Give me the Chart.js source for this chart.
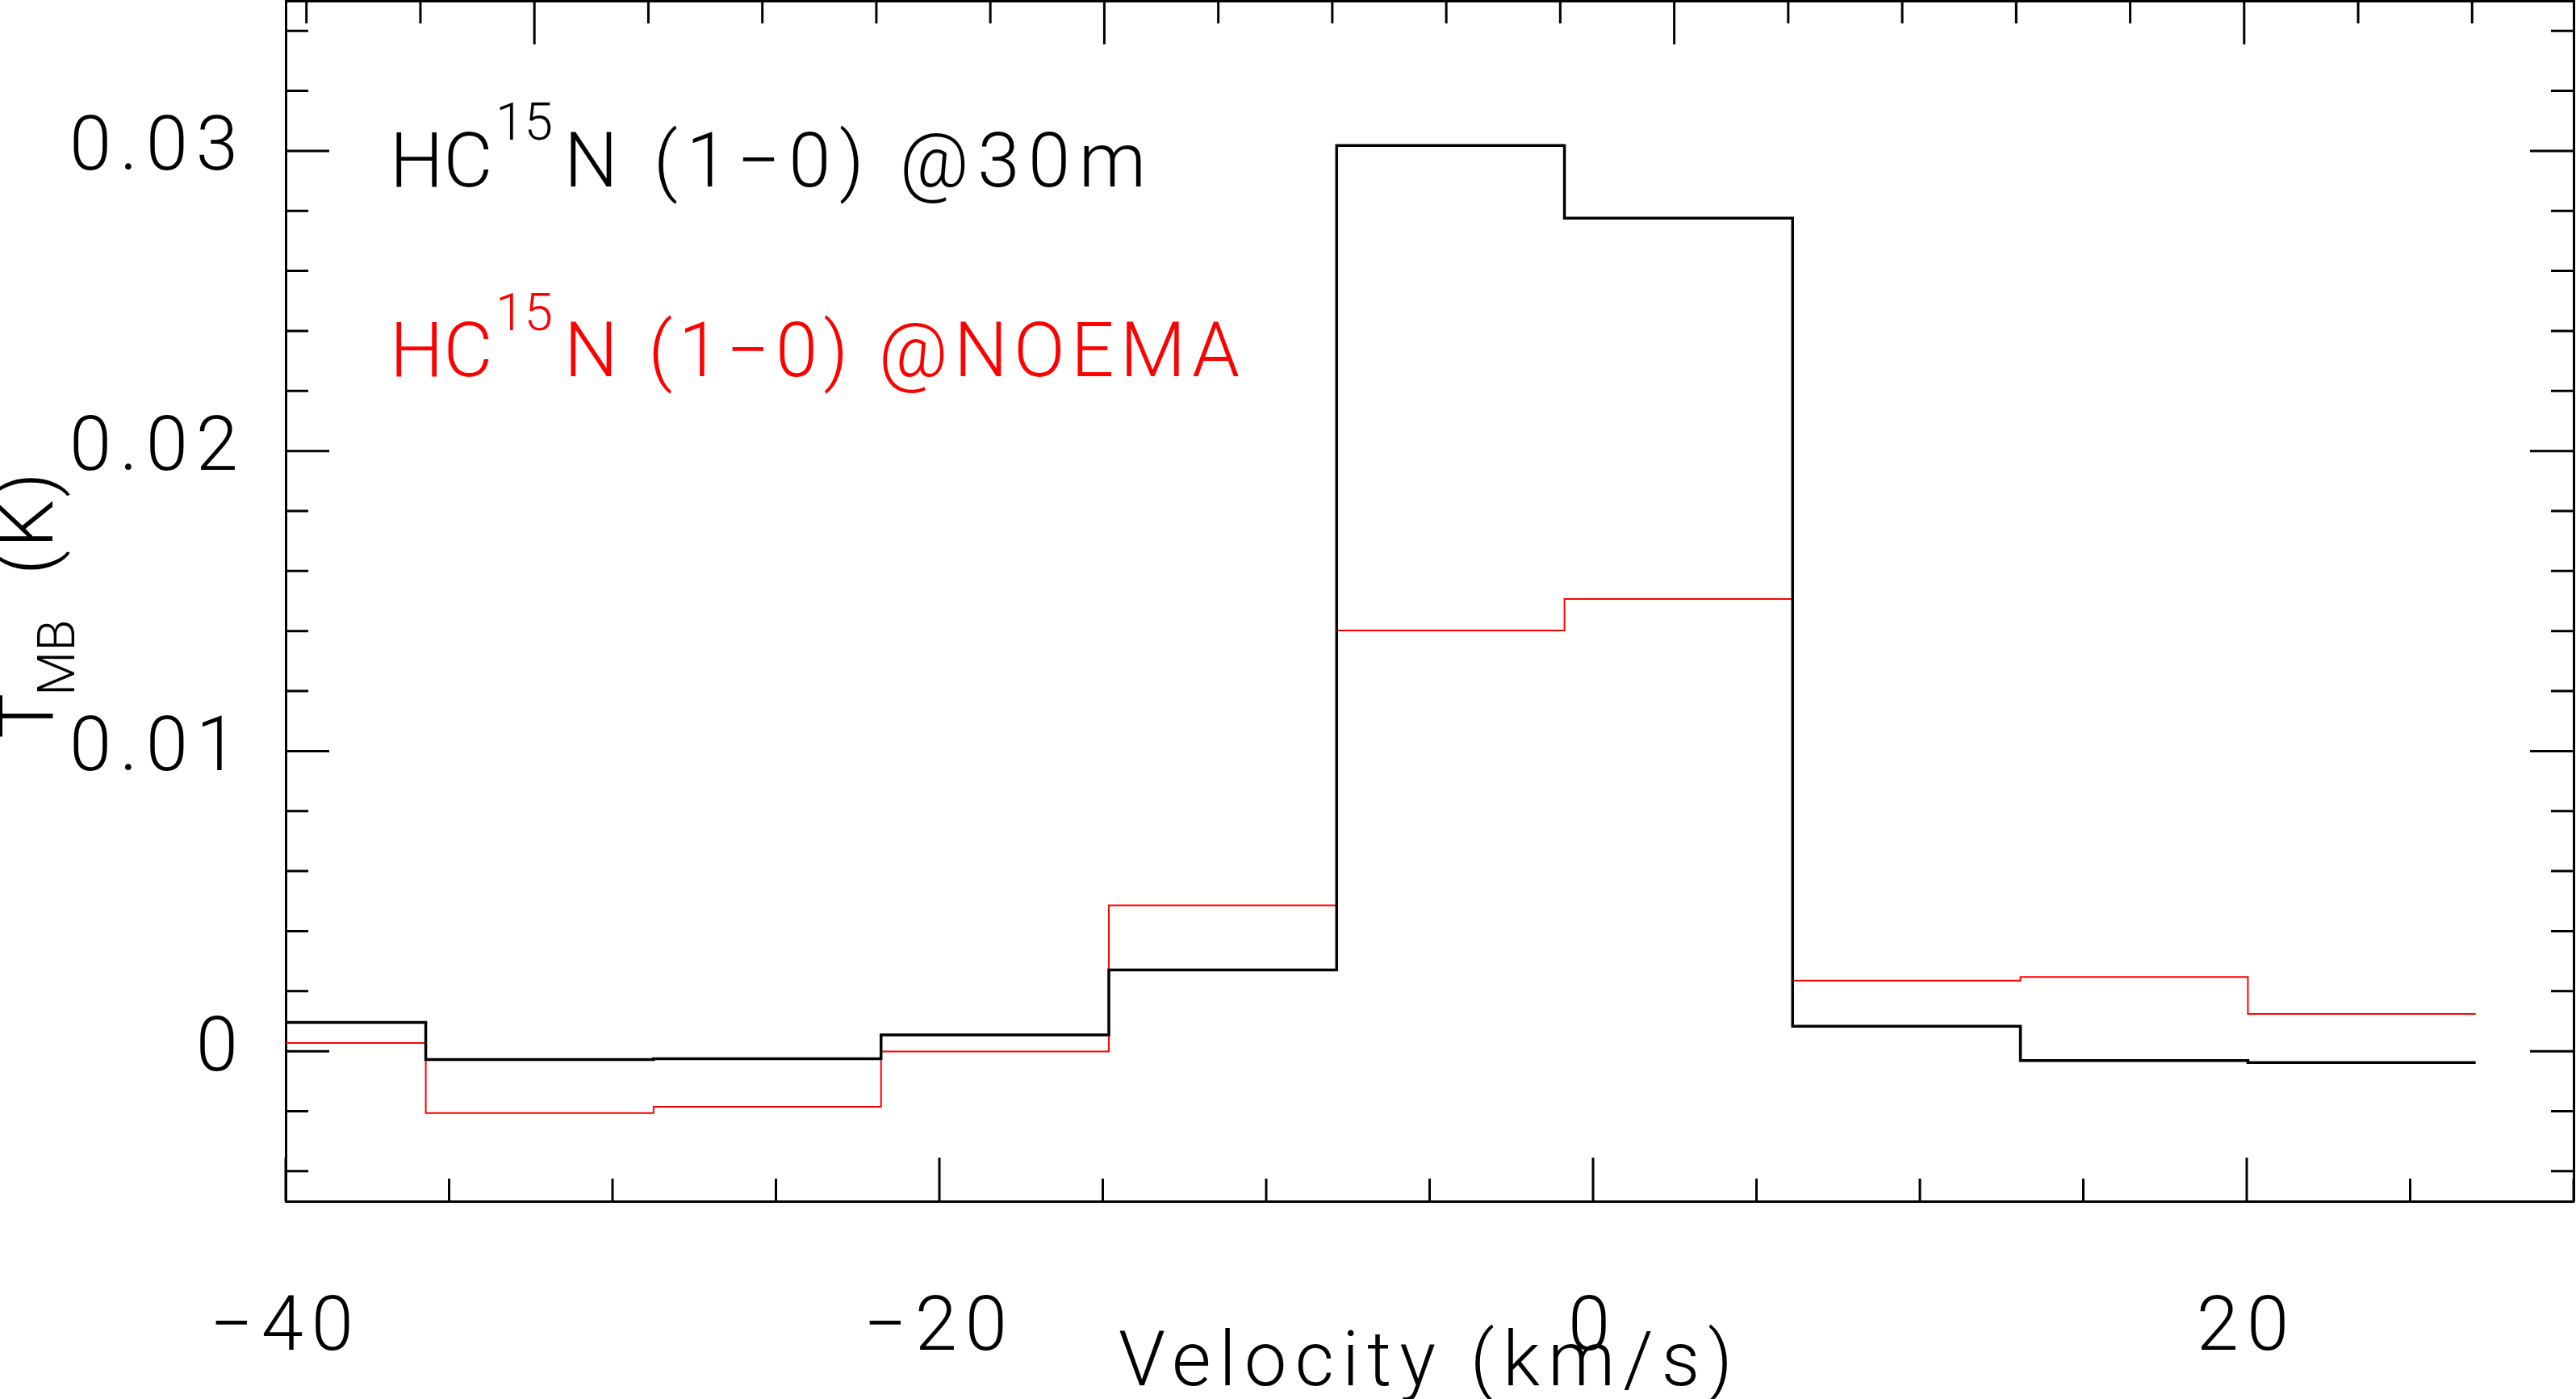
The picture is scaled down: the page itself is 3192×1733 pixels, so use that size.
<!DOCTYPE html>
<html>
<head>
<meta charset="utf-8">
<title>HC15N (1-0) spectra</title>
<script src="https://cdn.jsdelivr.net/npm/chart.js@4.4.1/dist/chart.umd.min.js"></script>
<style>
  html, body { margin: 0; padding: 0; background: #ffffff; }
  #wrap { width: 3192px; height: 1733px; }
</style>
</head>
<body>
<div id="wrap"><canvas id="spectrum"></canvas></div>
<script>
// ---- data ----
// channel centres (km/s)
const velocity = [-39.20, -32.23, -25.26, -18.30, -11.33, -4.36, 2.61, 9.59, 16.56, 23.52];
// main-beam temperature (K), IRAM 30m
const tmb30m = [0.00096, -0.00028, -0.00025, 0.00054, 0.00271, 0.03018, 0.02776, 0.00083, -0.00031, -0.00038];
// main-beam temperature (K), NOEMA
const tmbNoema = [0.00027, -0.00206, -0.00185, -0.00001, 0.00486, 0.01402, 0.01507, 0.00235, 0.00247, 0.00124];

// labelled ticks
const xTickLabels = [-40, -20, 0, 20];
const yTickLabels = [0, 0.01, 0.02, 0.03];

// top axis (frequency offset, unlabelled in the figure)
const freqRange = [-2.182, 17.89];

const FONT = "Roboto, 'Liberation Sans', 'DejaVu Sans', sans-serif";
const MAJOR_TICK = 54;
const MINOR_TICK = 28;
const LETTER_GAP = "10px"; // the original stroke font is widely spaced

Chart.defaults.font.family = FONT;
Chart.defaults.font.weight = 300;
Chart.defaults.color = "#000000";

// histogram style: one point per channel left edge, plus the last right edge
function channelSteps(vel, vals) {
  const width = (vel[vel.length - 1] - vel[0]) / (vel.length - 1);
  const pts = vel.map((v, i) => ({ x: v - width / 2, y: vals[i] }));
  pts.push({ x: vel[vel.length - 1] + width / 2, y: vals[vals.length - 1] });
  return pts;
}

function minusSign(v) {
  return String(v).replace("-", "\u2212");
}

// draw text starting at x0, spreading letters so it ends near x1
function spacedText(ctx, text, x0, x1, y) {
  ctx.letterSpacing = "0px";
  const w = ctx.measureText(text).width;
  const gap = Math.max(0, (x1 - x0 - w) / (text.length - 1));
  ctx.letterSpacing = gap + "px";
  ctx.fillText(text, x0, y);
  ctx.letterSpacing = "0px";
}

// wider letter spacing for the library's own tick labels and axis title
const letterGap = {
  id: "letterGap",
  beforeUpdate(chart) { chart.ctx.letterSpacing = LETTER_GAP; },
  beforeDraw(chart) { chart.ctx.letterSpacing = LETTER_GAP; }
};

// inward ticks on all four sides of the frame
const frameTicks = {
  id: "frameTicks",
  afterDatasetsDraw(chart) {
    const { ctx, chartArea: a, scales } = chart;
    ctx.save();
    ctx.strokeStyle = "#000000";
    ctx.lineWidth = 3;
    ctx.beginPath();
    // velocity: minor every 5, major every 20
    for (let v = -40; v <= 30; v += 5) {
      const px = scales.x.getPixelForValue(v);
      const len = v % 20 === 0 ? MAJOR_TICK : MINOR_TICK;
      ctx.moveTo(px, a.bottom);
      ctx.lineTo(px, a.bottom - len);
    }
    // frequency: minor every 1, major every 5
    for (let f = Math.ceil(scales.x2.min); f <= scales.x2.max; f++) {
      const px = scales.x2.getPixelForValue(f);
      const len = f % 5 === 0 ? MAJOR_TICK : MINOR_TICK;
      ctx.moveTo(px, a.top);
      ctx.lineTo(px, a.top + len);
    }
    // temperature: minor every 0.002, major every 0.01
    for (let k = -2; k <= 17; k++) {
      const py = scales.y.getPixelForValue(k * 0.002);
      const len = k % 5 === 0 ? MAJOR_TICK : MINOR_TICK;
      ctx.moveTo(a.left, py);
      ctx.lineTo(a.left + len, py);
      ctx.moveTo(a.right, py);
      ctx.lineTo(a.right - len, py);
    }
    ctx.stroke();
    ctx.restore();
  }
};

// labels with sub/superscripts
const annotations = {
  id: "annotations",
  afterDraw(chart) {
    const ctx = chart.ctx;
    ctx.save();
    ctx.textBaseline = "alphabetic";
    ctx.textAlign = "left";
    ctx.letterSpacing = "0px";

    // legend texts
    const labels = [
      { color: "#000000", base: 231, sup: 173, tail: "N (1\u22120) @30m", end: 1420 },
      { color: "#ff0000", base: 466, sup: 409, tail: "N (1\u22120) @NOEMA", end: 1536 }
    ];
    labels.forEach(l => {
      ctx.fillStyle = l.color;
      ctx.font = "300 94px " + FONT;
      ctx.fillText("HC", 483, l.base);
      spacedText(ctx, l.tail, 699, l.end, l.base);
      ctx.font = "300 64px " + FONT;
      ctx.fillText("15", 614, l.sup);
    });

    // y axis title: T_MB (K)
    ctx.fillStyle = "#000000";
    ctx.translate(65, 915);
    ctx.rotate(-Math.PI / 2);
    ctx.font = "300 94px " + FONT;
    ctx.fillText("T", 0, 0);
    spacedText(ctx, "(K)", 203, 330, 0);
    ctx.font = "300 64px " + FONT;
    spacedText(ctx, "MB", 53, 138, 27);
    ctx.restore();
  }
};

new Chart(document.getElementById("spectrum"), {
  type: "line",
  data: {
    datasets: [
      {
        label: "HC15N (1-0) @30m",
        data: channelSteps(velocity, tmb30m),
        borderColor: "#000000",
        borderWidth: 3.5,
        stepped: "before",
        pointRadius: 0,
        fill: false
      },
      {
        label: "HC15N (1-0) @NOEMA",
        data: channelSteps(velocity, tmbNoema),
        borderColor: "#ff0000",
        borderWidth: 2,
        stepped: "before",
        pointRadius: 0,
        fill: false
      }
    ]
  },
  options: {
    responsive: true,
    maintainAspectRatio: false,
    animation: false,
    layout: { padding: { top: 1, right: 3, left: 0, bottom: 0 } },
    plugins: {
      legend: { display: false },
      tooltip: { enabled: false }
    },
    scales: {
      x: {
        type: "linear",
        position: "bottom",
        min: -40,
        max: 30,
        grid: { display: false, drawTicks: false },
        border: { display: true, color: "#000000", width: 3 },
        afterBuildTicks: s => { s.ticks = xTickLabels.map(v => ({ value: v })); },
        afterFit: s => { s.height = 245; s.paddingLeft = 0; s.paddingRight = 0; },
        ticks: {
          autoSkip: false,
          maxRotation: 0,
          padding: 104,
          font: { size: 94, weight: 300 },
          callback: v => minusSign(v)
        },
        title: {
          display: true,
          text: "Velocity (km/s)",
          font: { size: 94, weight: 300 },
          padding: { top: 0, bottom: -16 }
        }
      },
      x2: {
        type: "linear",
        position: "top",
        min: freqRange[0],
        max: freqRange[1],
        grid: { display: false, drawTicks: false },
        border: { display: true, color: "#000000", width: 3 },
        ticks: { display: false },
        afterFit: s => { s.height = 0; s.paddingLeft = 0; s.paddingRight = 0; }
      },
      y: {
        type: "linear",
        position: "left",
        min: -0.005,
        max: 0.035,
        grid: { display: false, drawTicks: false },
        border: { display: true, color: "#000000", width: 3 },
        afterBuildTicks: s => { s.ticks = yTickLabels.map(v => ({ value: v })); },
        afterFit: s => { s.width = 354; s.paddingTop = 0; s.paddingBottom = 0; },
        ticks: {
          autoSkip: false,
          padding: 49,
          font: { size: 94, weight: 300 },
          callback: v => (v === 0 ? "0" : v.toFixed(2))
        }
      },
      y2: {
        type: "linear",
        position: "right",
        min: -0.005,
        max: 0.035,
        grid: { display: false, drawTicks: false },
        border: { display: true, color: "#000000", width: 3 },
        ticks: { display: false },
        afterFit: s => { s.width = 0; s.paddingTop = 0; s.paddingBottom = 0; }
      }
    }
  },
  plugins: [letterGap, frameTicks, annotations]
});
</script>
</body>
</html>
